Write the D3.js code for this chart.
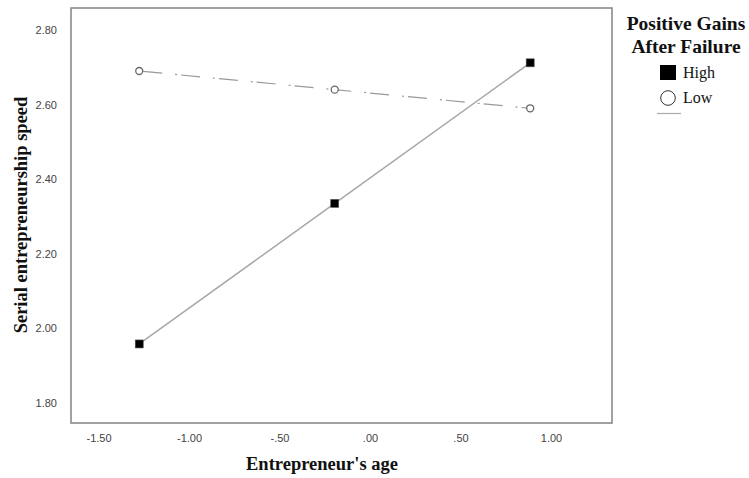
<!DOCTYPE html>
<html>
<head>
<meta charset="utf-8">
<script src="https://cdn.jsdelivr.net/npm/d3@7"></script>
<style>
  body { margin:0; background:#fff; }
  svg { display:block; }
  .tick text { font-family:"Liberation Sans", Arial, sans-serif; font-size:11px; fill:#444; }
  .title { font-family:"Liberation Serif", "Times New Roman", serif; font-weight:bold; font-size:18.5px; fill:#111; }
  .ltitle { font-family:"Liberation Serif", "Times New Roman", serif; font-weight:bold; font-size:19.5px; fill:#111; }
  .leg { font-family:"Liberation Serif", "Times New Roman", serif; font-size:16px; fill:#111; }
</style>
</head>
<body>
<svg id="chart" width="749" height="478"></svg>
<script>
// data
const ages = [-1.275, -0.195, 0.885];
const highSpeed = [1.958, 2.335, 2.712];
const lowSpeed = [2.69, 2.64, 2.59];
const xTicks = [-1.5, -1.0, -0.5, 0.0, 0.5, 1.0];
const yTicks = [1.8, 2.0, 2.2, 2.4, 2.6, 2.8];
const groups = ["High", "Low"];

const svg = d3.select("#chart");
const frame = {left:71, top:8, right:612, bottom:423};
const x = d3.scaleLinear().domain([-1.652, 1.337]).range([frame.left, frame.right]);
const y = d3.scaleLinear().domain([1.746, 2.859]).range([frame.bottom, frame.top]);

// spss style number labels: ".50", "-.50", plain hyphen
const fmt = v => {
  const s = Math.abs(v).toFixed(2).replace(/^0\./, ".");
  return (v < 0 ? "-" : "") + s;
};

svg.append("g").attr("transform", `translate(0,${frame.bottom})`)
  .call(d3.axisBottom(x).tickValues(xTicks).tickFormat(fmt).tickSize(0).tickPadding(11))
  .call(g => g.select(".domain").remove());
svg.append("g").attr("transform", `translate(${frame.left},0)`)
  .call(d3.axisLeft(y).tickValues(yTicks).tickFormat(fmt).tickSize(0).tickPadding(14))
  .call(g => g.select(".domain").remove());

svg.append("rect").attr("x", frame.left).attr("y", frame.top)
  .attr("width", frame.right-frame.left).attr("height", frame.bottom-frame.top)
  .attr("fill", "none").attr("stroke", "#8a8a8a").attr("stroke-width", 1.6);

const line = d3.line().x(d => x(d[0])).y(d => y(d[1]));
const highPts = ages.map((a, i) => [a, highSpeed[i]]);
const lowPts = ages.map((a, i) => [a, lowSpeed[i]]);

svg.append("path").datum(lowPts).attr("d", line).attr("fill", "none")
  .attr("stroke", "#999").attr("stroke-width", 1.2).attr("stroke-dasharray", "19,13,2,4").attr("stroke-dashoffset", -4);
svg.append("path").datum(highPts).attr("d", line).attr("fill", "none")
  .attr("stroke", "#a8a8a8").attr("stroke-width", 1.5);

svg.selectAll("circle.low").data(lowPts).join("circle").attr("class", "low")
  .attr("cx", d => x(d[0])).attr("cy", d => y(d[1])).attr("r", 3.5)
  .attr("fill", "#fff").attr("stroke", "#666").attr("stroke-width", 1.3);
svg.selectAll("rect.high").data(highPts).join("rect").attr("class", "high")
  .attr("x", d => x(d[0])-4).attr("y", d => y(d[1])-4).attr("width", 8).attr("height", 8)
  .attr("fill", "#000").attr("stroke", "#555").attr("stroke-width", 0.6);

// axis titles
svg.append("text").attr("class", "title").attr("x", 322).attr("y", 470).attr("text-anchor", "middle").text("Entrepreneur's age");
svg.append("text").attr("class", "title").attr("transform", "translate(27,215) rotate(-90)").attr("text-anchor", "middle").text("Serial entrepreneurship speed");

// legend
const lg = svg.append("g");
lg.append("text").attr("class", "ltitle").attr("x", 686).attr("y", 30).attr("text-anchor", "middle").text("Positive Gains");
lg.append("text").attr("class", "ltitle").attr("x", 686).attr("y", 53).attr("text-anchor", "middle").text("After Failure");
lg.append("rect").attr("x", 660).attr("y", 65).attr("width", 16).attr("height", 15).attr("fill", "#000");
lg.append("circle").attr("cx", 668).attr("cy", 98).attr("r", 7.3).attr("fill", "#fff").attr("stroke", "#333").attr("stroke-width", 1);
lg.selectAll("text.leg").data(groups).join("text").attr("class", "leg")
  .attr("x", 683).attr("y", (d, i) => 78+i*25).text(d => d);
lg.append("line").attr("x1", 657).attr("x2", 681).attr("y1", 113.5).attr("y2", 113.5).attr("stroke", "#aaa").attr("stroke-width", 1.2);
</script>
</body>
</html>
